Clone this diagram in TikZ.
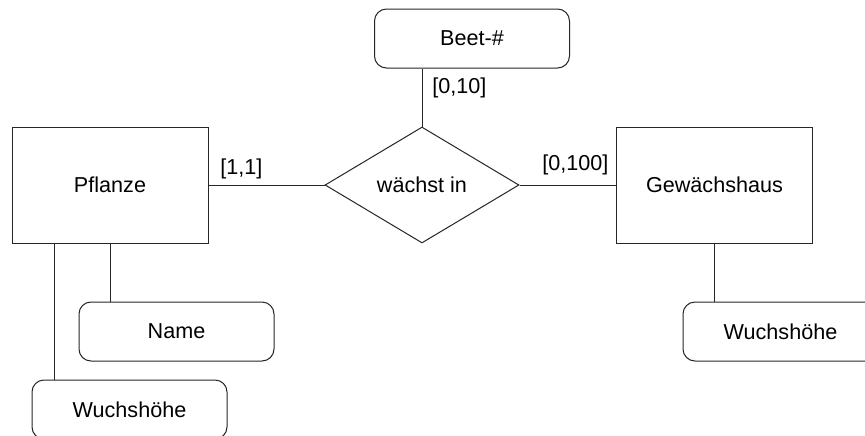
\documentclass[tikz,border=0pt]{standalone}
\usepackage{fontspec}
\setmainfont{Liberation Sans}
\usetikzlibrary{shapes.geometric}
\begin{document}
\begin{tikzpicture}[x=0.75pt,y=-0.75pt,
  every node/.style={font=\fontsize{16.2pt}{19pt}\selectfont, text=black},
  entity/.style={draw=black!85, line width=0.75pt, minimum width=147pt, minimum height=87pt, inner sep=0pt},
  attr/.style={draw=black!85, line width=0.75pt, rounded corners=9pt, minimum width=146.25pt, minimum height=44.25pt, inner sep=0pt},
  relation/.style={draw=black!85, line width=0.75pt, diamond, minimum width=145.5pt, minimum height=87pt, inner sep=0pt},
  link/.style={draw=black!85, line width=0.75pt},
  card/.style={anchor=base west, inner sep=0pt}]
\fill[white] (0,0) rectangle (865,436);
\useasboundingbox (0,0) rectangle (865,436);

% entities and relationship
\node[entity] (pfl) at (110,185) {Pflanze};
\node[relation] (rel) at (422,185) {wächst in};
\node[entity] (gew) at (714.5,185) {Gewächshaus};

% attributes
\node[attr] (beet) at (472,38.5) {Beet-\#};
\node[attr] (name) at (176.5,331.5) {Name};
\node[attr] (wl) at (129.5,409.5) {Wuchshöhe};
\node[attr] (wr) at (780.5,331.5) {Wuchshöhe};

% connectors
\draw[link] (pfl.east) -- (rel.west);
\draw[link] (rel.east) -- (gew.west);
\draw[link] (rel.north) -- (rel.north |- beet.south);
\draw[link] (pfl.south) -- (pfl.south |- name.north);
\coordinate (pflw) at ([xshift=32.25pt]pfl.south west);
\draw[link] (pflw) -- (pflw |- wl.north);
\draw[link] (gew.south) -- (gew.south |- wr.north);

% cardinalities
\node[card] (c1) at (220,174) {[1,1]};
\node[card] (c2) at (432,93.5) {[0,10]};
\node[card] (c3) at (542,170.5) {[0,100]};
\end{tikzpicture}
\end{document}
